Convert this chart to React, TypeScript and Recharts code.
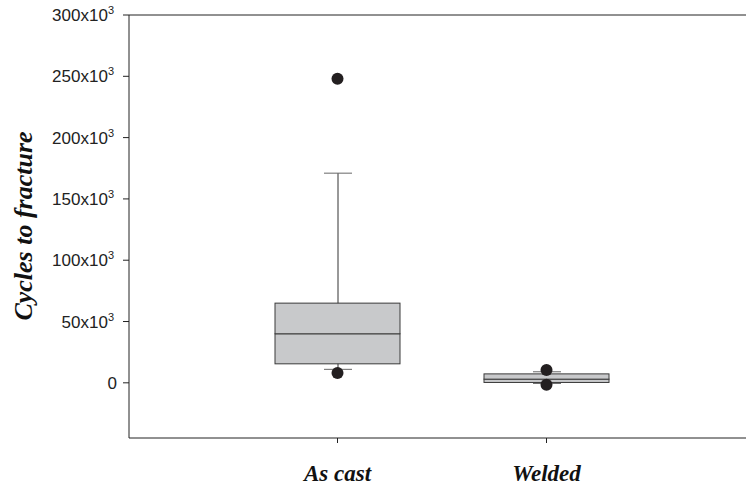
import { ComposedChart, Bar, Scatter, XAxis, YAxis } from 'recharts';

const categories = ['As cast', 'Welded'];
const whiskerLow = [11000, -500];
const q1 = [15500, 300];
const median = [40000, 3000];
const q3 = [65000, 7300];
const whiskerHigh = [171000, 9000];

const outlierCategory = ['As cast', 'As cast', 'Welded', 'Welded'];
const outlierValues = [248000, 8000, 10500, -1500];

const yTicks = [0, 50000, 100000, 150000, 200000, 250000, 300000];

const data = categories.map((name, i) => ({
  name,
  whisker: [whiskerLow[i], whiskerHigh[i]],
  lower: [q1[i], median[i]],
  upper: [median[i], q3[i]],
}));

const outliers = outlierCategory.map((name, i) => ({ name, value: outlierValues[i] }));

const pad = { left: 104, right: 95 };

function WhiskerShape(props: any) {
  const { x, y, width, height } = props;
  const top = Math.min(y, y + height);
  const bottom = Math.max(y, y + height);
  const cx = x + width / 2;
  return (
    <g stroke="#333" strokeWidth={1}>
      <line x1={cx} x2={cx} y1={top} y2={bottom} />
      <line x1={x} x2={x + width} y1={top} y2={top} stroke="#666" />
      <line x1={x} x2={x + width} y1={bottom} y2={bottom} stroke="#666" />
    </g>
  );
}

function BoxShape(props: any) {
  const { x, y, width, height } = props;
  const top = Math.min(y, y + height);
  return (
    <rect x={x} y={top} width={width} height={Math.abs(height)} fill="#c8c9cb" stroke="#3a3a3a" strokeWidth={1} />
  );
}

function OutlierDot(props: any) {
  return <circle cx={props.cx} cy={props.cy} r={6} fill="#231f20" />;
}

function YTick(props: any) {
  const { x, y, payload } = props;
  const v = payload.value;
  if (v === 0) {
    return (
      <text x={x + 3} y={y + 6} textAnchor="end" fontSize={17} fontFamily="'Liberation Sans', Arial, sans-serif" fill="#222">
        0
      </text>
    );
  }
  return (
    <text x={x} y={y + 6} textAnchor="end" fontSize={17} fontFamily="'Liberation Sans', Arial, sans-serif" fill="#222">
      {v / 1000}x10
      <tspan dy={-7} fontSize={11}>3</tspan>
    </text>
  );
}

function XTick(props: any) {
  const { x, y, payload } = props;
  return (
    <text
      x={x}
      y={y + 36}
      textAnchor="middle"
      fontSize={23}
      fontWeight="bold"
      fontStyle="italic"
      fontFamily="'Liberation Serif', 'Times New Roman', serif"
      fill="#111"
    >
      {payload.value}
    </text>
  );
}

function YLabel() {
  return (
    <text
      x={23}
      y={226}
      transform="rotate(-90, 23, 226)"
      textAnchor="middle"
      dominantBaseline="central"
      fontSize={26}
      fontWeight="bold"
      fontStyle="italic"
      fontFamily="'Liberation Serif', 'Times New Roman', serif"
      fill="#111"
    >
      Cycles to fracture
    </text>
  );
}

export default function App() {
  return (
    <div style={{ position: 'absolute', left: 0, top: 0, background: '#fff' }}>
      <ComposedChart width={746} height={489} data={data} margin={{ top: 14, right: 0, bottom: 0, left: 0 }}>
        <XAxis
          xAxisId="x"
          dataKey="name"
          padding={pad}
          height={51}
          allowDuplicatedCategory={false}
          axisLine={{ stroke: '#222' }}
          tickLine={{ stroke: '#222' }}
          tickSize={5}
          tickMargin={2}
          tick={<XTick />}
          interval={0}
        />
        <XAxis
          xAxisId="top"
          dataKey="name"
          orientation="top"
          padding={pad}
          height={1}
          allowDuplicatedCategory={false}
          tick={false}
          tickLine={false}
          axisLine={{ stroke: '#222' }}
        />
        <XAxis xAxisId="w" dataKey="name" orientation="top" height={0} padding={pad} allowDuplicatedCategory={false} hide />
        <XAxis xAxisId="u" dataKey="name" orientation="top" height={0} padding={pad} allowDuplicatedCategory={false} hide />
        <YAxis
          type="number"
          domain={[-45000, 300000]}
          ticks={yTicks}
          width={129}
          allowDataOverflow
          axisLine={{ stroke: '#222' }}
          tickLine={{ stroke: '#222' }}
          tickSize={6}
          tickMargin={9}
          tick={<YTick />}
          interval={0}
          label={<YLabel />}
        />
        <Bar xAxisId="w" dataKey="whisker" barSize={28} shape={<WhiskerShape />} isAnimationActive={false} />
        <Bar xAxisId="x" dataKey="lower" barSize={125} shape={<BoxShape />} isAnimationActive={false} />
        <Bar xAxisId="u" dataKey="upper" barSize={125} shape={<BoxShape />} isAnimationActive={false} />
        <Scatter xAxisId="x" data={outliers} dataKey="value" shape={<OutlierDot />} isAnimationActive={false} />
      </ComposedChart>
    </div>
  );
}
